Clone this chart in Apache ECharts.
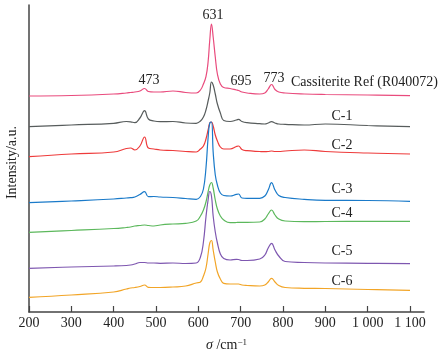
<!DOCTYPE html>
<html>
<head>
<meta charset="utf-8">
<script src="https://cdn.jsdelivr.net/npm/echarts@6/dist/echarts.min.js"></script>
<style>
  html, body { margin: 0; padding: 0; background: #fff; }
  #main { width: 444px; height: 354px; }
</style>
</head>
<body>
<div id="main"></div>
<script>
// Raman shift (cm-1) sampling grid shared by all spectra
const wavenumbers = [200, 300, 400, 430, 440, 450, 462, 473, 482, 495, 510, 540, 570, 595,
  605, 612, 618, 623, 627, 631, 635, 640, 645, 652, 660, 675, 690, 695, 703, 715,
  745, 757, 765, 773, 781, 790, 805, 850, 900, 1000, 1100];

// intensities (a.u., stacked with offsets as in the figure)
const refR040072 = [216, 216.5, 218, 219, 219.5, 220, 221, 223.5, 220.5, 220, 220, 221, 219.5, 219,
  222, 228, 235.3, 250, 272, 288, 275, 255, 238, 228, 224.5, 223.5, 222, 221.5, 220, 219,
  218, 219, 223, 227.5, 222.5, 220, 219, 218, 217.5, 217, 216.3];
const c1 = [185.3, 187, 188.7, 190.5, 190.2, 189.3, 194, 201.3, 193, 191, 190.3, 190.5, 189, 188.7,
  191, 195, 202, 211, 219, 230, 227, 218, 208, 199, 191.5, 190.5, 192, 192.7, 190.5, 189.3,
  188.3, 188, 189, 190.3, 189, 188, 187.7, 187, 188, 186.5, 185.3];
const c2 = [155.3, 158, 160, 163.5, 164, 162, 166, 175, 164, 163, 162, 161.5, 160.5, 160,
  163, 166, 173, 182, 189, 190, 186, 177, 171, 165, 163, 163, 165.5, 166, 162.5, 161.3,
  160.5, 160.3, 160.5, 161, 160.5, 160.5, 161, 162, 160.5, 159, 158];
const c3 = [109.3, 111, 113, 114, 114.3, 115, 117.5, 120.3, 115.3, 115.5, 115, 114.5, 113.5, 112.7,
  115.5, 123, 144, 174, 189, 190, 160, 137, 127, 119, 116.5, 116, 117.7, 118, 114, 113.7,
  113.7, 116, 122, 129.3, 122, 116.5, 114.5, 112.7, 111.7, 111.5, 110.7];
const c4 = [79.7, 81.5, 83.5, 84.5, 85, 86, 86.5, 87, 86.5, 86, 87, 88, 88.7, 91,
  96, 102, 110, 120, 127, 129.5, 124, 112, 103, 96, 92, 89.3, 89.5, 89.7, 89.7, 89.7,
  90, 93, 98, 102, 97, 93, 91, 90.3, 90.5, 90.7, 90.7];
const c5 = [43.7, 45, 46, 46.5, 47, 48, 49.5, 49.5, 49, 49, 48.7, 49, 48.5, 49,
  55, 70, 95, 112, 120.5, 116, 96, 80, 69, 58, 53.5, 52, 52.7, 52.5, 51.5, 51.5,
  53, 57, 64, 68.7, 62, 56, 50.5, 49.5, 49, 48.7, 48.3];
const c6 = [14.7, 17, 20, 23, 24, 24.5, 25.5, 27, 24.7, 24.5, 24.5, 25, 26, 29,
  30, 36, 44, 58, 69, 71.5, 62, 50, 40, 33, 28.7, 28, 28, 28, 27, 26.5,
  26, 27, 30, 33.7, 30, 26.5, 24.5, 23.7, 23.5, 22.5, 21.7];

const seriesNames = ['Cassiterite Ref (R040072)', 'C-1', 'C-2', 'C-3', 'C-4', 'C-5', 'C-6'];
const seriesValues = [refR040072, c1, c2, c3, c4, c5, c6];
const seriesColors = ['#e94b7d', '#575c5c', '#ee3b3b', '#1a7ac9', '#5cb85c', '#7e57b0', '#f2a527'];
const tickValues = [200, 300, 400, 500, 600, 700, 800, 900, 1000, 1100];

const FONT = 'Liberation Serif';

function txt(text, x, y, align) {
  return {
    type: 'text',
    x: x,
    y: y,
    style: {
      text: text,
      font: '14px "' + FONT + '"',
      fill: '#222',
      align: align || 'center',
      verticalAlign: 'middle'
    }
  };
}

const myChart = echarts.init(document.getElementById('main'));

const option = {
  animation: false,
  backgroundColor: '#fff',
  grid: { left: 29, top: 5, width: 395, height: 307, containLabel: false, outerBoundsMode: 'none' },
  xAxis: {
    type: 'value',
    min: 200,
    max: 1133,
    name: '{i|σ} /cm{sup|−1}',
    nameLocation: 'middle',
    nameGap: 26,
    nameTextStyle: {
      fontFamily: FONT,
      fontSize: 14,
      color: '#222',
      rich: {
        i: { fontFamily: FONT, fontSize: 14, fontStyle: 'italic', color: '#222' },
        sup: { fontFamily: FONT, fontSize: 9, color: '#222', padding: [0, 0, 6, 0] }
      }
    },
    axisLine: { lineStyle: { color: '#444', width: 1.5 } },
    axisTick: { inside: true, length: 6, customValues: tickValues, lineStyle: { color: '#444', width: 1.2 } },
    axisLabel: {
      customValues: tickValues,
      margin: 4,
      fontFamily: FONT,
      fontSize: 14,
      color: '#222',
      formatter: v => v >= 1000 ? String(v).replace(/^(\d)(\d{3})$/, '$1 $2') : String(v)
    },
    splitLine: { show: false }
  },
  yAxis: {
    type: 'value',
    min: 0,
    max: 307,
    name: 'Intensity/a.u.',
    nameLocation: 'middle',
    nameGap: 10,
    nameTextStyle: { fontFamily: FONT, fontSize: 14, color: '#222', padding: [0, 8, 0, 0] },
    axisLine: { show: true, lineStyle: { color: '#444', width: 1.5 } },
    axisTick: { show: false },
    axisLabel: { show: false },
    splitLine: { show: false }
  },
  series: seriesNames.map((name, k) => ({
    name: name,
    type: 'line',
    smooth: 0.45,
    showSymbol: false,
    lineStyle: { color: seriesColors[k], width: 1.2 },
    itemStyle: { color: seriesColors[k] },
    data: wavenumbers.map((w, i) => [w, seriesValues[k][i]])
  })),
  graphic: [
    txt('631', 213, 15),
    txt('473', 149, 80.5),
    txt('695', 241, 81),
    txt('773', 274, 78.5),
    txt('Cassiterite Ref (R040072)', 291, 82.5, 'left'),
    txt('C-1', 342, 116),
    txt('C-2', 342, 145),
    txt('C-3', 342, 189.5),
    txt('C-4', 342, 213),
    txt('C-5', 342, 251),
    txt('C-6', 342, 281)
  ]
};

myChart.setOption(option);
</script>
</body>
</html>
